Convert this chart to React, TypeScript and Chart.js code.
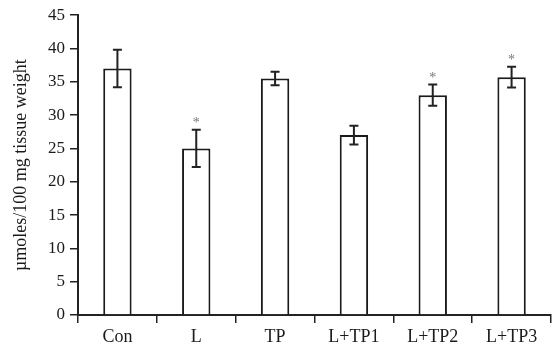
import React, { useEffect, useRef } from "react";
import { Chart, registerables } from "chart.js";

Chart.register(...registerables);

const categories = ["Con", "L", "TP", "L+TP1", "L+TP2", "L+TP3"];
const means = [37, 25, 35.5, 27, 33, 35.7];
const errors = [2.8, 2.8, 1.0, 1.4, 1.6, 1.55];
const significant = [false, true, false, false, true, true];
const yTicks = [0, 5, 10, 15, 20, 25, 30, 35, 40, 45];
const yTitle = "\u00b5moles/100 mg tissue weight";

const FONT = '"Liberation Serif", "DejaVu Serif", "Times New Roman", serif';

const errorBarPlugin = {
  id: "errorBars",
  afterDatasetsDraw(chart: any) {
    const ctx = chart.ctx;
    const meta = chart.getDatasetMeta(0);
    const yScale = chart.scales.y;
    ctx.save();
    meta.data.forEach((bar: any, i: number) => {
      const x = bar.x;
      const top = yScale.getPixelForValue(means[i] + errors[i]);
      const bot = yScale.getPixelForValue(means[i] - errors[i]);
      const cap = 4.5;
      ctx.strokeStyle = "#222";
      ctx.lineWidth = 2;
      ctx.beginPath();
      ctx.moveTo(x, top);
      ctx.lineTo(x, bot);
      ctx.moveTo(x - cap, top);
      ctx.lineTo(x + cap, top);
      ctx.moveTo(x - cap, bot);
      ctx.lineTo(x + cap, bot);
      ctx.stroke();
      if (significant[i]) {
        ctx.fillStyle = "#777";
        ctx.font = "14px " + FONT;
        ctx.textAlign = "center";
        ctx.textBaseline = "alphabetic";
        ctx.fillText("*", x, top - 2.5);
      }
    });
    ctx.restore();
  },
};

export default function App() {
  const ref = useRef<HTMLCanvasElement>(null);
  useEffect(() => {
    if (!ref.current) return;
    const chart = new Chart(ref.current, {
      type: "bar",
      data: {
        labels: categories,
        datasets: [
          {
            data: means,
            backgroundColor: "#ffffff",
            borderColor: "#1a1a1a",
            borderWidth: 2,
            categoryPercentage: 1,
            barPercentage: 0.36,
          },
        ],
      },
      options: {
        animation: false,
        responsive: false,
        layout: { padding: { top: 13, right: 1, bottom: 0, left: 0 } },
        plugins: {
          legend: { display: false },
          tooltip: { enabled: false },
        },
        scales: {
          x: {
            grid: {
              display: true,
              offset: true,
              drawOnChartArea: false,
              drawTicks: true,
              tickLength: 8,
              color: "#222",
              lineWidth: 1.5,
            },
            border: { display: true, color: "#222", width: 2 },
            ticks: {
              color: "#1a1a1a",
              padding: 3,
              font: { family: FONT, size: 18 },
              maxRotation: 0,
            },
            afterFit: (scale: any) => {
              scale.height = 35;
            },
          },
          y: {
            min: 0,
            max: 45,
            afterBuildTicks: (scale: any) => {
              scale.ticks = yTicks.map((v) => ({ value: v }));
            },
            grid: {
              display: true,
              drawOnChartArea: false,
              drawTicks: true,
              tickLength: 8,
              color: "#222",
              lineWidth: 1.5,
            },
            border: { display: true, color: "#222", width: 2 },
            ticks: {
              color: "#1a1a1a",
              padding: 5,
              font: { family: FONT, size: 17 },
            },
            title: {
              display: true,
              text: yTitle,
              color: "#1a1a1a",
              font: { family: FONT, size: 18 },
              padding: { top: 10, bottom: 0 },
            },
            afterFit: (scale: any) => {
              scale.width = 78;
            },
          },
        },
      },
      plugins: [errorBarPlugin],
    });
    return () => chart.destroy();
  }, []);
  return (
    <div style={{ position: "absolute", left: 0, top: 0, width: 552, height: 350, background: "#fff" }}>
      <canvas ref={ref} width={552} height={350} style={{ display: "block" }} />
    </div>
  );
}
